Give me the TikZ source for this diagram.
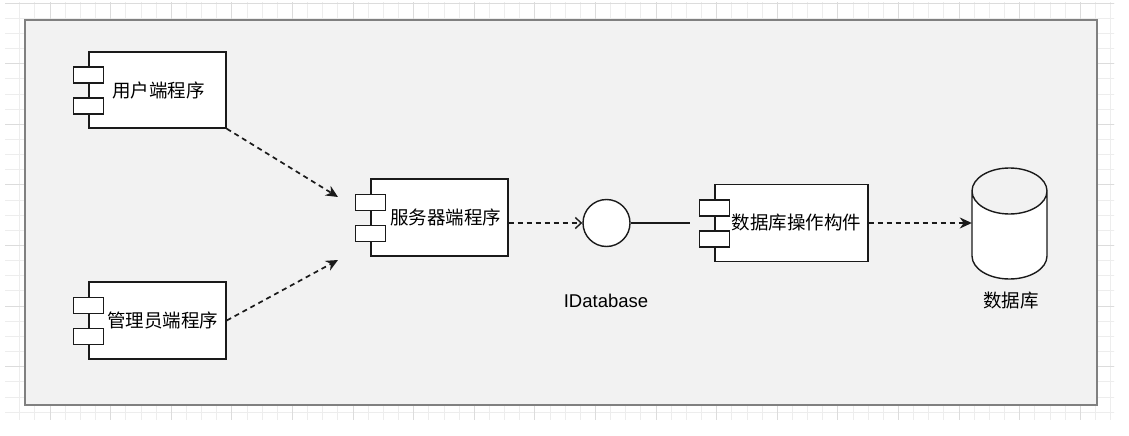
\documentclass[tikz,border=0pt]{standalone}
\usepackage{fontspec}
\setmainfont{Liberation Sans}
\newfontfamily\cjk{Noto Sans CJK SC}
\usetikzlibrary{arrows.meta}
\definecolor{panelfill}{HTML}{F2F2F2}
\definecolor{panelline}{HTML}{808080}
\definecolor{gridminor}{HTML}{EDEDED}
\definecolor{gridmajor}{HTML}{DCDCDC}
\definecolor{ink}{HTML}{1A1A1A}
\tikzset{
  comp/.style={draw=ink, line width=1.4pt, fill=white, rectangle, inner sep=0pt,
    font=\cjk\fontsize{18.5}{22}\selectfont},
  port/.style={draw=ink, line width=1.4pt, fill=white},
  dep/.style={draw=ink, line width=1.7pt, dash pattern=on 5pt off 4pt,
    -{Stealth[length=12pt,width=11pt]}},
  depopen/.style={draw=ink, line width=1.7pt, dash pattern=on 5pt off 4pt,
    -{Straight Barb[length=6pt,width=11pt,line width=1.4pt]}},
  iface/.style={draw=ink, line width=1.4pt, fill=white, circle, inner sep=0pt, minimum size=47pt},
  lbl/.style={inner sep=0pt, font=\fontsize{18.5}{22}\selectfont},
}
\newcommand{\compports}[1]{%
  \draw[port] ([xshift=-15pt,yshift=-8pt]#1.west) rectangle ([xshift=15pt,yshift=-24pt]#1.west);
  \draw[port] ([xshift=-15pt,yshift=7pt]#1.west) rectangle ([xshift=15pt,yshift=23pt]#1.west);
}
\begin{document}
\begin{tikzpicture}[x=1pt,y=-1pt]
\useasboundingbox (0,0) rectangle (1129,436);
\fill[white] (0,0) rectangle (1129,436);
% grid
\begin{scope}
  \clip (5,3) rectangle (1114,419);
  \foreach \i in {0,...,75} {
    \draw[gridminor, line width=0.8pt] ({4.55+15.15*\i},0) -- ({4.55+15.15*\i},436);
  }
  \foreach \i in {0,...,29} {
    \draw[gridminor, line width=0.8pt] (0,{3+15.15*\i}) -- (1129,{3+15.15*\i});
  }
  \foreach \i in {0,...,18} {
    \draw[gridmajor, line width=0.9pt] ({50+60.6*\i},0) -- ({50+60.6*\i},436);
  }
  \foreach \i in {0,...,7} {
    \draw[gridmajor, line width=0.9pt] (0,{3+60.6*\i}) -- (1129,{3+60.6*\i});
  }
\end{scope}
% panel
\draw[panelline, fill=panelfill, line width=1.6pt] (25,20) rectangle (1097,405);

% components
\node[comp, minimum width=137pt, minimum height=76pt] (user) at (157.5,90) {\hspace*{2pt}用户端程序};
\compports{user}
\node[comp, minimum width=137pt, minimum height=77pt] (admin) at (157.5,320.5) {\hspace*{10pt}管理员端程序};
\compports{admin}
\node[comp, minimum width=137pt, minimum height=77pt] (server) at (439.5,217.5) {\hspace*{12pt}服务器端程序};
\compports{server}
\node[comp, minimum width=153pt, minimum height=77pt] (dbop) at (791.5,223) {\hspace*{10pt}数据库操作构件};
\compports{dbop}

% interface
\node[iface] (iface) at (606.5,223) {};
\node[lbl] (ifacelbl) at (606,301) {IDatabase};

% database cylinder
\node[inner sep=0pt, minimum width=75pt, minimum height=111pt] (db) at (1009.5,223) {};
\draw[ink, line width=1.4pt, fill=white]
  (972,191) -- (972,256) arc[start angle=180, end angle=360, x radius=37.5pt, y radius=23pt]
  -- (1047,191) arc[start angle=0, end angle=-180, x radius=37.5pt, y radius=23pt] -- cycle;
\draw[ink, line width=1.4pt] (972,191) arc[start angle=180, end angle=0, x radius=37.5pt, y radius=23pt];
\node[lbl, font=\cjk\fontsize{18.5}{22}\selectfont] (dblbl) at (1011,301) {数据库};

% connectors
\coordinate (t1) at (338,197);
\coordinate (t2) at (338,260);
\coordinate (lend) at (690,223);
\draw[dep] (user.south east) -- (t1);
\draw[dep] (admin.east) -- (t2);
\draw[depopen] (server.east |- iface.west) -- (iface.west);
\draw[ink, line width=1.4pt] (iface.east) -- (lend);
\draw[dep] (dbop.east) -- (db.west);
\end{tikzpicture}
\end{document}
